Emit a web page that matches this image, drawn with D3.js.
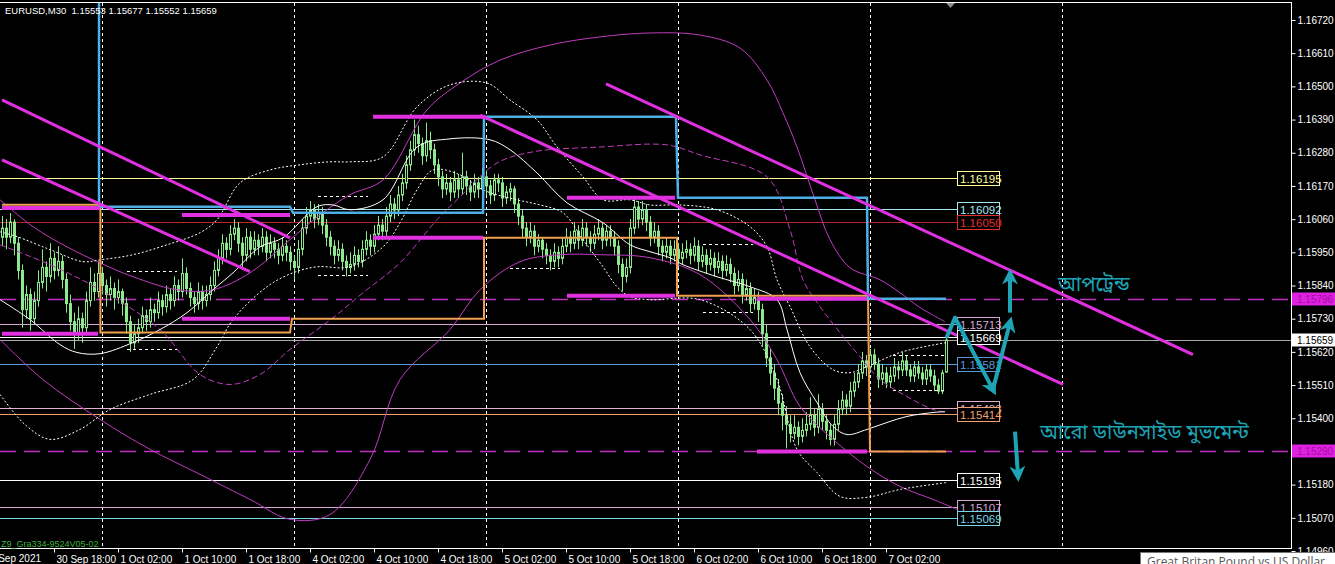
<!DOCTYPE html>
<html><head><meta charset="utf-8">
<script src="https://cdn.jsdelivr.net/npm/d3@7"></script>
<style>body{margin:0;background:#000;overflow:hidden}svg{display:block}</style>
</head><body><svg id="c" width="1335" height="564"></svg>
<script>
// ---------------- DATA ----------------
const symbolTitle = "EURUSD,M30  1.15553 1.15677 1.15552 1.15659";
// [open, high, low, close] for each M30 bar
const candles = [
[1.1600,1.1607,1.1597,1.1603],[1.1603,1.1606,1.1596,1.1600],[1.1600,1.1608,1.1598,1.1605],[1.1605,1.1606,1.1594,1.1598],[1.1598,1.1600,1.1586,1.1589],
[1.1589,1.1591,1.1570,1.1576],[1.1576,1.1584,1.1573,1.1581],[1.1581,1.1583,1.1569,1.1573],[1.1573,1.1582,1.1571,1.1579],[1.1579,1.1589,1.1577,1.1585],
[1.1585,1.1596,1.1583,1.1590],[1.1590,1.1592,1.1582,1.1587],[1.1587,1.1598,1.1585,1.1593],[1.1593,1.1595,1.1586,1.1589],[1.1589,1.1597,1.1587,1.1592],
[1.1592,1.1594,1.1583,1.1586],[1.1586,1.1588,1.1575,1.1578],[1.1578,1.1581,1.1569,1.1572],[1.1572,1.1575,1.1563,1.1568],[1.1568,1.1577,1.1566,1.1573],
[1.1573,1.1575,1.1565,1.1570],[1.1570,1.1582,1.1568,1.1579],[1.1579,1.1590,1.1577,1.1585],[1.1585,1.1588,1.1579,1.1582],[1.1582,1.1592,1.1580,1.1588],
[1.1588,1.1590,1.1581,1.1584],[1.1584,1.1586,1.1577,1.1581],[1.1581,1.1587,1.1579,1.1583],[1.1583,1.1585,1.1576,1.1580],[1.1580,1.1586,1.1578,1.1582],
[1.1582,1.1583,1.1574,1.1578],[1.1578,1.1580,1.1568,1.1572],[1.1572,1.1574,1.1562,1.1565],[1.1565,1.1571,1.1563,1.1568],[1.1568,1.1573,1.1565,1.1570],
[1.1570,1.1577,1.1568,1.1574],[1.1574,1.1576,1.1569,1.1572],[1.1572,1.1580,1.1570,1.1576],[1.1576,1.1578,1.1572,1.1575],[1.1575,1.1582,1.1573,1.1579],
[1.1579,1.1581,1.1574,1.1577],[1.1577,1.1584,1.1575,1.1581],[1.1581,1.1583,1.1576,1.1579],[1.1579,1.1587,1.1577,1.1584],[1.1584,1.1586,1.1579,1.1582],
[1.1582,1.1593,1.1580,1.1588],[1.1588,1.1590,1.1581,1.1583],[1.1583,1.1585,1.1577,1.1580],[1.1580,1.1582,1.1575,1.1578],[1.1578,1.1585,1.1576,1.1582],
[1.1582,1.1584,1.1576,1.1579],[1.1579,1.1584,1.1577,1.1581],[1.1581,1.1587,1.1579,1.1584],[1.1584,1.1592,1.1582,1.1589],[1.1589,1.1596,1.1587,1.1593],
[1.1593,1.1601,1.1591,1.1598],[1.1598,1.1600,1.1593,1.1596],[1.1596,1.1604,1.1594,1.1601],[1.1601,1.1606,1.1599,1.1603],[1.1603,1.1605,1.1595,1.1598],
[1.1598,1.1600,1.1590,1.1594],[1.1594,1.1603,1.1592,1.1600],[1.1600,1.1602,1.1593,1.1596],[1.1596,1.1602,1.1594,1.1599],[1.1599,1.1601,1.1594,1.1597],
[1.1597,1.1603,1.1595,1.1600],[1.1600,1.1602,1.1592,1.1595],[1.1595,1.1601,1.1593,1.1598],[1.1598,1.1600,1.1593,1.1596],[1.1596,1.1598,1.1591,1.1594],
[1.1594,1.1600,1.1592,1.1597],[1.1597,1.1599,1.1592,1.1595],[1.1595,1.1597,1.1589,1.1592],[1.1592,1.1594,1.1586,1.1590],[1.1590,1.1599,1.1588,1.1596],
[1.1596,1.1606,1.1594,1.1603],[1.1603,1.1610,1.1601,1.1607],[1.1607,1.1612,1.1605,1.1609],[1.1609,1.1611,1.1603,1.1606],[1.1606,1.1611,1.1604,1.1608],
[1.1608,1.1610,1.1601,1.1604],[1.1604,1.1606,1.1597,1.1600],[1.1600,1.1602,1.1594,1.1597],[1.1597,1.1599,1.1591,1.1594],[1.1594,1.1599,1.1592,1.1596],
[1.1596,1.1598,1.1589,1.1592],[1.1592,1.1594,1.1587,1.1590],[1.1590,1.1595,1.1588,1.1591],[1.1591,1.1597,1.1589,1.1594],[1.1594,1.1596,1.1590,1.1592],
[1.1592,1.1599,1.1590,1.1596],[1.1596,1.1602,1.1594,1.1599],[1.1599,1.1601,1.1594,1.1597],[1.1597,1.1604,1.1595,1.1601],[1.1601,1.1607,1.1599,1.1604],
[1.1604,1.1606,1.1599,1.1602],[1.1602,1.1610,1.1600,1.1607],[1.1607,1.1614,1.1605,1.1611],[1.1611,1.1613,1.1606,1.1609],[1.1609,1.1617,1.1607,1.1614],
[1.1614,1.1621,1.1612,1.1618],[1.1618,1.1627,1.1616,1.1624],[1.1624,1.1632,1.1622,1.1629],[1.1629,1.1639,1.1627,1.1634],[1.1634,1.1637,1.1628,1.1631],
[1.1631,1.1633,1.1624,1.1627],[1.1627,1.1638,1.1625,1.1632],[1.1632,1.1635,1.1626,1.1629],[1.1629,1.1631,1.1621,1.1624],[1.1624,1.1626,1.1617,1.1620],
[1.1620,1.1622,1.1613,1.1616],[1.1616,1.1621,1.1614,1.1618],[1.1618,1.1620,1.1612,1.1615],[1.1615,1.1622,1.1613,1.1619],[1.1619,1.1621,1.1613,1.1616],
[1.1616,1.1628,1.1614,1.1620],[1.1620,1.1622,1.1614,1.1617],[1.1617,1.1619,1.1612,1.1615],[1.1615,1.1621,1.1613,1.1618],[1.1618,1.1620,1.1613,1.1616],
[1.1616,1.1623,1.1614,1.1620],[1.1620,1.1622,1.1614,1.1617],[1.1617,1.1619,1.1611,1.1614],[1.1614,1.1621,1.1612,1.1619],[1.1619,1.1621,1.1615,1.1618],
[1.1618,1.1620,1.1610,1.1613],[1.1613,1.1617,1.1611,1.1615],[1.1615,1.1618,1.1612,1.1616],[1.1616,1.1617,1.1608,1.1611],[1.1611,1.1613,1.1604,1.1607],
[1.1607,1.1609,1.1600,1.1603],[1.1603,1.1605,1.1597,1.1600],[1.1600,1.1605,1.1598,1.1602],[1.1602,1.1604,1.1594,1.1597],[1.1597,1.1601,1.1595,1.1599],
[1.1599,1.1600,1.1593,1.1596],[1.1596,1.1598,1.1591,1.1594],[1.1594,1.1596,1.1589,1.1592],[1.1592,1.1598,1.1590,1.1595],[1.1595,1.1597,1.1590,1.1593],
[1.1593,1.1600,1.1591,1.1597],[1.1597,1.1603,1.1595,1.1600],[1.1600,1.1602,1.1595,1.1598],[1.1598,1.1605,1.1596,1.1602],[1.1602,1.1604,1.1596,1.1599],
[1.1599,1.1606,1.1597,1.1603],[1.1603,1.1605,1.1597,1.1600],[1.1600,1.1602,1.1595,1.1598],[1.1598,1.1604,1.1596,1.1601],[1.1601,1.1606,1.1599,1.1603],
[1.1603,1.1605,1.1596,1.1599],[1.1599,1.1604,1.1597,1.1602],[1.1602,1.1604,1.1597,1.1600],[1.1600,1.1602,1.1594,1.1597],[1.1597,1.1599,1.1588,1.1591],
[1.1591,1.1593,1.1582,1.1587],[1.1587,1.1593,1.1585,1.1590],[1.1590,1.1606,1.1588,1.1603],[1.1603,1.1613,1.1601,1.1610],[1.1610,1.1612,1.1603,1.1606],
[1.1606,1.1612,1.1604,1.1609],[1.1609,1.1611,1.1602,1.1605],[1.1605,1.1607,1.1597,1.1600],[1.1600,1.1605,1.1598,1.1602],[1.1602,1.1604,1.1594,1.1597],
[1.1597,1.1599,1.1592,1.1595],[1.1595,1.1600,1.1593,1.1597],[1.1597,1.1599,1.1591,1.1594],[1.1594,1.1599,1.1592,1.1596],[1.1596,1.1598,1.1590,1.1593],
[1.1593,1.1598,1.1591,1.1595],[1.1595,1.1599,1.1593,1.1596],[1.1596,1.1598,1.1591,1.1594],[1.1594,1.1600,1.1592,1.1597],[1.1597,1.1599,1.1589,1.1592],
[1.1592,1.1597,1.1590,1.1594],[1.1594,1.1596,1.1588,1.1591],[1.1591,1.1596,1.1589,1.1593],[1.1593,1.1595,1.1587,1.1590],[1.1590,1.1595,1.1588,1.1592],
[1.1592,1.1594,1.1586,1.1589],[1.1589,1.1594,1.1587,1.1591],[1.1591,1.1593,1.1585,1.1588],[1.1588,1.1590,1.1581,1.1584],[1.1584,1.1589,1.1582,1.1586],
[1.1586,1.1588,1.1578,1.1581],[1.1581,1.1586,1.1579,1.1583],[1.1583,1.1585,1.1575,1.1578],[1.1578,1.1583,1.1576,1.1580],[1.1580,1.1582,1.1572,1.1576],
[1.1576,1.1578,1.1564,1.1568],[1.1568,1.1571,1.1557,1.1560],[1.1560,1.1563,1.1551,1.1555],[1.1555,1.1558,1.1546,1.1550],[1.1550,1.1553,1.1541,1.1545],
[1.1545,1.1548,1.1536,1.1541],[1.1541,1.1544,1.1530,1.1538],[1.1538,1.1541,1.1532,1.1535],[1.1535,1.1541,1.1533,1.1537],[1.1537,1.1539,1.1531,1.1534],
[1.1534,1.1540,1.1532,1.1536],[1.1536,1.1542,1.1534,1.1538],[1.1538,1.1547,1.1536,1.1541],[1.1541,1.1543,1.1534,1.1537],[1.1537,1.1548,1.1535,1.1543],
[1.1543,1.1545,1.1536,1.1539],[1.1539,1.1541,1.1533,1.1536],[1.1536,1.1538,1.1531,1.1533],[1.1533,1.1541,1.1531,1.1538],[1.1538,1.1546,1.1536,1.1543],
[1.1543,1.1549,1.1541,1.1546],[1.1546,1.1548,1.1541,1.1544],[1.1544,1.1552,1.1542,1.1549],[1.1549,1.1555,1.1547,1.1552],[1.1552,1.1558,1.1550,1.1555],
[1.1555,1.1562,1.1553,1.1559],[1.1559,1.1561,1.1554,1.1557],[1.1557,1.1563,1.1555,1.1561],[1.1561,1.1563,1.1556,1.1558],[1.1558,1.1560,1.1550,1.1553],
[1.1553,1.1558,1.1551,1.1555],[1.1555,1.1557,1.1550,1.1552],[1.1552,1.1557,1.1550,1.1554],[1.1554,1.1560,1.1552,1.1557],[1.1557,1.1559,1.1553,1.1556],
[1.1556,1.1562,1.1554,1.1559],[1.1559,1.1561,1.1554,1.1556],[1.1556,1.1558,1.1552,1.1554],[1.1554,1.1559,1.1552,1.1557],[1.1557,1.1559,1.1553,1.1555],
[1.1555,1.1557,1.1551,1.1553],[1.1553,1.1558,1.1551,1.1556],[1.1556,1.1558,1.1552,1.1554],[1.1554,1.1556,1.1549,1.1551],[1.1551,1.1553,1.1548,1.1549],
[1.1549,1.1556,1.1548,1.1555],[1.15553,1.15677,1.15552,1.15659]
];
const priceTicks = [1.16720,1.16610,1.16500,1.16390,1.16280,1.16170,1.16060,1.15950,1.15840,1.15730,1.15620,1.15510,1.15400,1.15290,1.15180,1.15070,1.14960];
const firstTimeLabel = "29 Sep 2021";
const timeTickIdx = [13,29,45,61,77,93,109,125,141,157,173,189,205,221];
const timeTickLabels = ["30 Sep 18:00","1 Oct 02:00","1 Oct 10:00","1 Oct 18:00","4 Oct 02:00","4 Oct 10:00","4 Oct 18:00","5 Oct 02:00","5 Oct 10:00","5 Oct 18:00","6 Oct 02:00","6 Oct 10:00","6 Oct 18:00","7 Oct 02:00"];
const daySeparatorIdx = [25,73,121,169,217,265];

// horizontal price levels with labels
const levelPrices = [1.16195,1.16092,1.16050,1.15713,1.15669,1.15581,1.15433,1.15414,1.15195,1.15107,1.15069];
const currentPrice = 1.15659;
const dashedLevels = [1.15796,1.15290];

// indicator curves [barIndex, price]
const bandUpper = [[-0.5,1.16124],[7.75,1.16035],[16.25,1.15968],[24.5,1.15915],[32.75,1.15869],[43.75,1.15826],[52.75,1.15826],[62,1.15882],[72,1.15992],[79.5,1.16074],[87,1.16141],[95.25,1.16190],[106.25,1.16422],[114.5,1.16511],[124.5,1.16587],[137,1.16637],[149.5,1.16664],[162,1.16677],[174.5,1.16670],[184.5,1.16627],[191.25,1.16521],[195.25,1.16412],[198.75,1.16299],[203.25,1.16124],[207,1.15992],[212,1.15899],[219.5,1.15859],[224.5,1.15816],[229.5,1.15767],[235.75,1.15720]];
const bandMiddle = [[-0.5,1.15975],[12,1.15909],[24.5,1.15826],[39.5,1.15694],[49.5,1.15545],[57,1.15512],[64.5,1.15545],[72,1.15628],[82.75,1.15733],[90.25,1.15816],[99.5,1.15915],[108.75,1.16058],[114.5,1.16134],[123.75,1.16246],[132.75,1.16283],[149.5,1.16299],[166.25,1.16306],[174.5,1.16273],[191.25,1.16200],[197,1.16025],[200.25,1.15859],[204.5,1.15770],[209.5,1.15684],[214.5,1.15604],[219.5,1.15528],[224.5,1.15485],[232.75,1.15429],[236.25,1.15419]];
const bandLower = [[-0.5,1.15661],[10.25,1.15528],[24.5,1.15396],[37,1.15297],[49.5,1.15214],[62,1.15131],[72,1.15065],[82,1.15081],[92,1.15263],[99.5,1.15528],[112,1.15694],[119.5,1.15826],[129.5,1.15919],[139.5,1.15942],[149.5,1.15942],[162,1.15932],[174.5,1.15876],[187,1.15727],[193.75,1.15594],[199.5,1.15439],[207.75,1.15330],[216.25,1.15240],[224.5,1.15174],[232.75,1.15131],[238.75,1.15098]];
const maLine = [[-0.5,1.15793],[7,1.15727],[14.5,1.15644],[18.75,1.15618],[24.5,1.15614],[32.75,1.15651],[39.5,1.15694],[46.25,1.15750],[52.75,1.15826],[57.75,1.15882],[64.5,1.15968],[70.25,1.15998],[78.75,1.16101],[82.75,1.16107],[87,1.16091],[95.25,1.16124],[103.75,1.16299],[112,1.16326],[122,1.16323],[127,1.16290],[133.75,1.16213],[141.25,1.16114],[150.25,1.16048],[157,1.15975],[162,1.15952],[167,1.15932],[170.25,1.15909],[178.75,1.15869],[187,1.15836],[193.75,1.15793],[196.25,1.15694],[199.5,1.15551],[203.75,1.15452],[207.75,1.15373],[211.25,1.15346],[216.25,1.15363],[221.25,1.15386],[226.25,1.15406],[232.75,1.15419],[235.75,1.15422]];
const envUpper = [[-0.5,1.16018],[3.75,1.16002],[12,1.15959],[20.25,1.15919],[24.5,1.15925],[32.75,1.15942],[41.25,1.15975],[49.5,1.16015],[53.75,1.16058],[59.5,1.16180],[67,1.16223],[74.5,1.16240],[82,1.16250],[87,1.16250],[95.25,1.16266],[103.75,1.16432],[112,1.16505],[121.25,1.16511],[127,1.16455],[133.75,1.16389],[138.75,1.16299],[145.25,1.16200],[150.25,1.16124],[157,1.16124],[162,1.16107],[169.5,1.16107],[178.75,1.16091],[187,1.16035],[191.25,1.15968],[193.75,1.15859],[197,1.15770],[202,1.15637],[207.75,1.15561],[212,1.15551],[216.25,1.15571],[224.5,1.15618],[236.25,1.15651]];
const envLower = [[-0.5,1.15479],[5.75,1.15379],[12,1.15330],[19.5,1.15363],[27,1.15429],[37,1.15479],[47.75,1.15528],[53.75,1.15637],[57.75,1.15727],[66.25,1.15836],[72.75,1.15882],[78.75,1.15902],[87,1.15902],[95.25,1.15968],[99.5,1.16048],[103.75,1.16157],[107.75,1.16223],[114.5,1.16207],[120.25,1.16157],[128.75,1.16124],[134.5,1.16107],[140.25,1.16081],[145.25,1.15992],[150.25,1.15902],[153.75,1.15836],[157,1.15803],[162,1.15793],[174.5,1.15793],[187,1.15694],[193.75,1.15528],[198.75,1.15297],[203.75,1.15220],[209.5,1.15141],[216.25,1.15138],[224.5,1.15164],[236.25,1.15187]];
// session range segments [fromIdx, toIdx, price]
const rangeSegments = [[31.25,43.75,1.15889],[31.25,43.75,1.15631],[79,91.5,1.16137],[79,91.5,1.15876],[127,139.5,1.16197],[127,139.5,1.15899],[175.25,187.75,1.15978],[175.25,187.75,1.15753],[222.75,235.75,1.15611],[222.75,235.75,1.15492]];
// previous-day high/low segments [fromIdx, toIdx, price]
const srSegments = [[0,24.5,1.16097],[0,24,1.15680],[45,72,1.16074],[45,72,1.15730],[92.75,120.75,1.16399],[92.75,120.25,1.15998],[141.25,168.25,1.16131],[141.25,168.25,1.15806],[188.75,216.25,1.15796],[188.75,216.25,1.15290]];
// trend lines [idx1, price1, idx2, price2]
const trendLines = [[0,1.16455,72,1.15998],[0,1.16256,62,1.15886],[119.5,1.16405,265.25,1.15512],[151,1.16508,297.75,1.15611]];
// daily step channel
const stepHigh = [[24.25,1.1690],[24.25,1.16101],[72,1.16101],[72.75,1.16081],[120.25,1.16081],[120.5,1.16399],[168.5,1.16399],[169,1.16131],[216.25,1.16131],[216.5,1.15796],[236,1.15796]];
const stepLow = [[0,1.16108],[24.6,1.16108],[24.6,1.15684],[72,1.15684],[72.5,1.15730],[120.5,1.15730],[120.5,1.15998],[168.75,1.15998],[168.75,1.15806],[216.5,1.15806],[217,1.15290],[236,1.15290]];
// annotations
const zigzag = [[236.25,1.15671],[238.25,1.15733],[247.75,1.15495],[252,1.15717]];
const upArrow = [[252,1.15750],[252,1.15875]];
const downArrow = [[253.25,1.15356],[254,1.15210]];
const upText = {idx:264, price:1.15823, text:"আপট্রেন্ড"};
const downText = {idx:259.5, price:1.15330, text:"আরো ডাউনসাইড মুভমেন্ট"};
const labelIdx = 238.75;
const tooltipText = "Great Britan Pound vs US Dollar";
const indicatorName = "Z9_Gra334-9524V05-02";

// ---------------- STYLES ----------------
const levelColors = ["#ffff9a","#a6e6f2","#e03030","#d8a6d8","#ffffff","#5a98d8","#e0b2ca","#f0a070","#ffffff","#d8a6d8","#7ad6e6"];
const levelLineColors = ["#ffff9a","#a6e6f2","#b82828","#d8a6d8","#ffffff","#5a98d8","#e0b2ca","#f0a070","#ffffff","#d8a6d8","#7ad6e6"];
const MAG = "#e030e0", TEAL = "#1ea4b4", CANDLE = "#8ee88e";
const FONT = "'Liberation Sans', Arial, sans-serif";

// ---------------- DRAW ----------------
const W = 1335, H = 564, plotR = 1291, plotT = 3, plotB = 548;
const svg = d3.select('#c');
const x = d3.scaleLinear().domain([0, 322]).range([2, 1290]);
const y = d3.scaleLinear().domain([1.14960, 1.16720]).range([551, 20]);

svg.append('rect').attr('width', W).attr('height', H).attr('fill', '#000');
const defs = svg.append('defs');
defs.append('clipPath').attr('id', 'clip').append('rect')
  .attr('x', 0).attr('y', plotT).attr('width', plotR).attr('height', plotB - plotT);
function marker(id, size) {
  defs.append('marker').attr('id', id).attr('viewBox', '0 0 10 10').attr('refX', 6).attr('refY', 5)
    .attr('markerWidth', size).attr('markerHeight', size).attr('markerUnits', 'userSpaceOnUse')
    .attr('orient', 'auto').append('path').attr('d', 'M0,0 L10,5 L0,10 L3,5 Z').attr('fill', TEAL);
}
marker('ah', 16);

const g = svg.append('g').attr('clip-path', 'url(#clip)');

// day separators
g.selectAll('.sep').data(daySeparatorIdx).join('line')
  .attr('x1', d => Math.round(x(d)) + 0.5).attr('x2', d => Math.round(x(d)) + 0.5)
  .attr('y1', plotT).attr('y2', plotB)
  .attr('stroke', '#fff').attr('stroke-dasharray', '3,3').attr('stroke-width', 1);

// level lines
const xl = x(labelIdx);
g.selectAll('.lvl').data(levelPrices).join('line')
  .attr('x1', 0).attr('x2', xl)
  .attr('y1', d => Math.round(y(d)) + 0.5).attr('y2', d => Math.round(y(d)) + 0.5)
  .attr('stroke', (d, i) => levelLineColors[i]).attr('stroke-width', 1);
g.append('line').attr('x1', 0).attr('x2', plotR)
  .attr('y1', Math.round(y(currentPrice)) + 0.5).attr('y2', Math.round(y(currentPrice)) + 0.5)
  .attr('stroke', '#a8a8a8').attr('stroke-width', 1);
g.selectAll('.dl').data(dashedLevels).join('line')
  .attr('x1', 0).attr('x2', plotR)
  .attr('y1', d => Math.round(y(d)) + 0.5).attr('y2', d => Math.round(y(d)) + 0.5)
  .attr('stroke', '#c030c0').attr('stroke-width', 1.3).attr('stroke-dasharray', '16,8');

// candles
const cg = g.append('g');
candles.forEach((c, i) => {
  const cx = Math.round(x(i));
  const [o, h, l, cl] = c;
  cg.append('line').attr('x1', cx + 0.5).attr('x2', cx + 0.5)
    .attr('y1', y(h)).attr('y2', y(l)).attr('stroke', CANDLE).attr('stroke-width', 1);
  const top = y(Math.max(o, cl)), bot = y(Math.min(o, cl));
  const bull = cl >= o;
  cg.append('rect').attr('x', cx - 0.5).attr('width', 2)
    .attr('y', top).attr('height', Math.max(1, bot - top))
    .attr('fill', bull ? '#000' : CANDLE).attr('stroke', CANDLE).attr('stroke-width', 1);
});

// indicator curves
const curve = d3.line().x(d => x(d[0])).y(d => y(d[1])).curve(d3.curveCatmullRom.alpha(0.5));
g.append('path').attr('d', curve(bandUpper)).attr('fill', 'none').attr('stroke', '#c03cc0').attr('stroke-width', 1);
g.append('path').attr('d', curve(bandLower)).attr('fill', 'none').attr('stroke', '#c03cc0').attr('stroke-width', 1);
g.append('path').attr('d', curve(bandMiddle)).attr('fill', 'none').attr('stroke', '#c03cc0').attr('stroke-width', 1).attr('stroke-dasharray', '6,3');
g.append('path').attr('d', curve(maLine)).attr('fill', 'none').attr('stroke', '#ffffff').attr('stroke-width', 1);
g.append('path').attr('d', curve(envUpper)).attr('fill', 'none').attr('stroke', '#ffffff').attr('stroke-width', 1).attr('stroke-dasharray', '2,2');
g.append('path').attr('d', curve(envLower)).attr('fill', 'none').attr('stroke', '#ffffff').attr('stroke-width', 1).attr('stroke-dasharray', '2,2');

// range segments
g.selectAll('.rs').data(rangeSegments).join('line')
  .attr('x1', d => x(d[0])).attr('x2', d => x(d[1]))
  .attr('y1', d => Math.round(y(d[2])) + 0.5).attr('y2', d => Math.round(y(d[2])) + 0.5)
  .attr('stroke', '#fff').attr('stroke-dasharray', '3,3');

// steps
const lin = d3.line().x(d => x(d[0])).y(d => y(d[1]));
g.append('path').attr('d', lin(stepLow)).attr('fill', 'none').attr('stroke', '#f0a050').attr('stroke-width', 2);
g.append('path').attr('d', lin(stepHigh)).attr('fill', 'none').attr('stroke', '#4eaee6').attr('stroke-width', 2.5);

// sr segments
g.selectAll('.sr').data(srSegments).join('line')
  .attr('x1', d => x(d[0])).attr('x2', d => x(d[1]))
  .attr('y1', d => y(d[2])).attr('y2', d => y(d[2]))
  .attr('stroke', MAG).attr('stroke-width', 4);
// trend lines
g.selectAll('.tl').data(trendLines).join('line')
  .attr('x1', d => x(d[0])).attr('y1', d => y(d[1])).attr('x2', d => x(d[2])).attr('y2', d => y(d[3]))
  .attr('stroke', MAG).attr('stroke-width', 3);

// level labels
const lg = g.append('g');
levelPrices.forEach((p, i) => {
  const yy = Math.round(y(p));
  lg.append('rect').attr('x', xl + 0.5).attr('y', yy - 6.5).attr('width', 42).attr('height', 14)
    .attr('fill', '#000').attr('stroke', levelColors[i]).attr('stroke-width', 1);
  lg.append('text').attr('x', xl + 3).attr('y', yy + 5).text(p.toFixed(5))
    .attr('fill', levelColors[i]).attr('font-family', FONT).attr('font-size', 11.5);
});

// annotations
for (let k = 0; k < zigzag.length - 1; k++) {
  g.append('line').attr('x1', x(zigzag[k][0])).attr('y1', y(zigzag[k][1]))
    .attr('x2', x(zigzag[k + 1][0])).attr('y2', y(zigzag[k + 1][1]))
    .attr('stroke', TEAL).attr('stroke-width', 4).attr('stroke-linecap', 'round')
    .attr('marker-end', k > 0 ? 'url(#ah)' : null);
}
[upArrow, downArrow].forEach(a => {
  g.append('line').attr('x1', x(a[0][0])).attr('y1', y(a[0][1])).attr('x2', x(a[1][0])).attr('y2', y(a[1][1]))
    .attr('stroke', TEAL).attr('stroke-width', 4).attr('marker-end', 'url(#ah)');
});
const BN = "'Noto Sans Bengali','Lohit Bengali','Noto Serif Bengali','FreeSans','Noto Sans',sans-serif";
g.append('text').attr('x', x(upText.idx)).attr('y', y(upText.price)).text(upText.text)
  .attr('fill', TEAL).attr('font-family', BN).attr('font-size', 20);
g.append('text').attr('x', x(downText.idx)).attr('y', y(downText.price)).text(downText.text)
  .attr('fill', TEAL).attr('font-family', BN).attr('font-size', 20);

// frame
svg.append('line').attr('x1', 0).attr('x2', plotR).attr('y1', plotT - 0.5).attr('y2', plotT - 0.5).attr('stroke', '#fff');
svg.append('line').attr('x1', plotR + 0.5).attr('x2', plotR + 0.5).attr('y1', plotT - 1).attr('y2', plotB + 1).attr('stroke', '#fff');
svg.append('line').attr('x1', 0).attr('x2', plotR + 1).attr('y1', plotB + 0.5).attr('y2', plotB + 0.5).attr('stroke', '#fff');
svg.append('path').attr('d', `M${x(236)},${plotT} l9,0 l-4.5,5 z`).attr('fill', '#8c8c8c');

// axes
const yAxis = d3.axisRight(y).tickValues(priceTicks).tickFormat(d3.format('.5f')).tickSize(4);
const ya = svg.append('g').attr('transform', `translate(${plotR + 0.5},0)`).call(yAxis);
ya.select('.domain').remove();
ya.selectAll('line').attr('stroke', '#fff');
ya.selectAll('text').attr('fill', '#fff').attr('font-family', FONT).attr('font-size', 10).attr('x', 6);

const xAxis = d3.axisBottom(x).tickValues(timeTickIdx).tickFormat((d, i) => timeTickLabels[i]).tickSize(4);
const xa = svg.append('g').attr('transform', `translate(0,${plotB + 0.5})`).call(xAxis);
xa.select('.domain').remove();
xa.selectAll('line').attr('stroke', '#fff');
xa.selectAll('text').attr('fill', '#fff').attr('font-family', FONT).attr('font-size', 10)
  .attr('text-anchor', 'start').attr('dx', 2);
svg.append('text').attr('x', x(timeTickIdx[0]) - 13).attr('y', plotB + 14).text(firstTimeLabel)
  .attr('fill', '#fff').attr('font-family', FONT).attr('font-size', 10).attr('text-anchor', 'end');

// right price tags
function tag(p, bg, fg) {
  const yy = Math.round(y(p));
  svg.append('rect').attr('x', plotR + 1).attr('y', yy - 6.5).attr('width', 44).attr('height', 13).attr('fill', bg);
  svg.append('text').attr('x', plotR + 6).attr('y', yy + 4).text(p.toFixed(5))
    .attr('fill', fg).attr('font-family', FONT).attr('font-size', 10);
}
dashedLevels.forEach(p => tag(p, '#e020e0', '#a010a0'));
tag(currentPrice, '#ffffff', '#000000');

// title & indicator name
svg.append('text').attr('x', 5).attr('y', 14).text(symbolTitle).attr('fill', '#fff')
  .attr('font-family', FONT).attr('font-size', 9.5).attr('xml:space', 'preserve').style('white-space', 'pre');
svg.append('text').attr('x', 1).attr('y', 547).text(indicatorName).attr('fill', '#3cb43c')
  .attr('font-family', FONT).attr('font-size', 9);

// tooltip
svg.append('rect').attr('x', 1140.5).attr('y', 552.5).attr('width', 196).attr('height', 20)
  .attr('fill', '#ffffff').attr('stroke', '#767676');
svg.append('text').attr('x', 1147).attr('y', 566).text(tooltipText).attr('fill', '#575757')
  .attr('font-family', "'Open Sans','Noto Sans',sans-serif").attr('font-size', 12);
</script>
</body></html>
